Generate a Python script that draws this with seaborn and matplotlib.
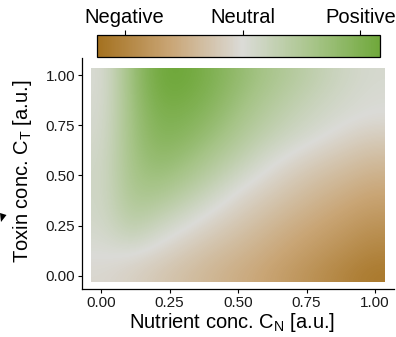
import numpy as np
import matplotlib
matplotlib.use("Agg")
import matplotlib.pyplot as plt
import seaborn as sns
from matplotlib.colors import LinearSegmentedColormap, Normalize
from matplotlib.patches import Polygon

# ---- data ----
nutrient = [0.0, 0.1, 0.2, 0.3, 0.4, 0.5, 0.6, 0.7, 0.8, 0.9, 1.0]
toxin = [0.0, 0.1, 0.2, 0.3, 0.4, 0.5, 0.6, 0.7, 0.8, 0.9, 1.0]
# effect[j][i]: toxin index j (rows, bottom->top), nutrient index i (columns)
effect = [
    [-0.05, -0.12, -0.22, -0.32, -0.42, -0.52, -0.62, -0.75, -0.87, -1.00, -1.12],
    [0.01, 0.02, -0.08, -0.20, -0.32, -0.42, -0.53, -0.65, -0.77, -0.88, -1.00],
    [0.07, 0.28, 0.10, -0.05, -0.18, -0.30, -0.43, -0.55, -0.66, -0.77, -0.88],
    [0.11, 0.45, 0.33, 0.15, -0.03, -0.17, -0.30, -0.43, -0.54, -0.65, -0.75],
    [0.12, 0.55, 0.55, 0.38, 0.17, -0.04, -0.17, -0.30, -0.42, -0.52, -0.62],
    [0.12, 0.60, 0.72, 0.58, 0.38, 0.15, -0.03, -0.17, -0.29, -0.38, -0.48],
    [0.10, 0.63, 0.85, 0.75, 0.55, 0.35, 0.12, -0.02, -0.14, -0.24, -0.33],
    [0.07, 0.65, 0.95, 0.90, 0.72, 0.50, 0.30, 0.14, 0.03, -0.08, -0.17],
    [0.05, 0.66, 1.02, 1.00, 0.85, 0.62, 0.42, 0.26, 0.13, 0.04, -0.01],
    [0.03, 0.68, 1.10, 1.10, 0.95, 0.72, 0.52, 0.36, 0.21, 0.10, 0.03],
    [0.02, 0.70, 1.15, 1.17, 1.00, 0.80, 0.60, 0.45, 0.29, 0.15, 0.06],
]
bar_ticks = [-1, 0, 1]
bar_labels = ["Negative", "Neutral", "Positive"]
bar_limits = (-1.233, 1.167)

# ---- style ----
sns.set_theme(style="ticks")
plt.rcParams["font.family"] = ["Liberation Sans", "DejaVu Sans"]
plt.rcParams["mathtext.default"] = "regular"

W, H = 396, 337
fig = plt.figure(figsize=(W / 100, H / 100), dpi=100)

def fx(px):
    return px / W

def fy(py):
    return 1 - py / H

cmap = LinearSegmentedColormap.from_list(
    "bg",
    [(0.0, "#A4711F"), (0.25, "#C9A575"), (0.5, "#DBDBD7"),
     (0.75, "#A6C487"), (1.0, "#69A532")],
)
lim = max(abs(bar_limits[0]), abs(bar_limits[1]))
norm = Normalize(-lim, lim)

# main panel
ax = fig.add_axes([fx(81.5), fy(288.5), fx(394) - fx(81.5), fy(57.5) - fy(288.5)])
pad_x, pad_y0, pad_y1 = 0.035, 0.03, 0.035
im = ax.imshow(np.array(effect), origin="lower", cmap=cmap, norm=norm,
               extent=(nutrient[0] - pad_x, nutrient[-1] + pad_x,
                       toxin[0] - pad_y0, toxin[-1] + pad_y1),
               aspect="auto", interpolation="bicubic")
ax.set_xlim(-0.0712, 1.0693)
ax.set_ylim(-0.0638, 1.0872)
ticks = [0.0, 0.25, 0.5, 0.75, 1.0]
ax.set_xticks(ticks)
ax.set_yticks(ticks)
ax.set_xticklabels([f"{t:.2f}" for t in ticks])
ax.set_yticklabels([f"{t:.2f}" for t in ticks])
for s in ["top", "right"]:
    ax.spines[s].set_visible(False)
for s in ["left", "bottom"]:
    ax.spines[s].set_linewidth(0.9)
    ax.spines[s].set_color("black")
ax.tick_params(axis="both", length=3, width=0.8, color="black",
               labelsize=11, labelcolor="#1a1a1a", direction="out")
ax.tick_params(axis="x", pad=2.5)
ax.tick_params(axis="y", pad=1.5)

fig.text(fx(232.5), fy(323), "Nutrient conc. C$_N$ [a.u.]", ha="center",
         va="center", fontsize=14.5, color="black")
fig.text(fx(23), fy(171), "Toxin conc. C$_T$ [a.u.]", ha="center",
         va="center", rotation=90, fontsize=14.5, color="black")

# colourbar on top
cax = fig.add_axes([fx(97.3), fy(56.7), fx(380) - fx(97.3), fy(35) - fy(56.7)])
cb = fig.colorbar(im, cax=cax, orientation="horizontal",
                  boundaries=np.linspace(bar_limits[0], bar_limits[1], 300))
cb.set_ticks(bar_ticks)
cb.set_ticklabels(bar_labels)
cax.xaxis.set_ticks_position("top")
cax.xaxis.set_label_position("top")
cax.tick_params(axis="x", length=3.5, width=0.8, color="black", pad=2,
                labelsize=14.5, labelcolor="black")
cb.outline.set_linewidth(0.9)
cb.outline.set_edgecolor("black")

# small cut-off arrowhead at left edge
fig.patches.append(Polygon([(fx(0), fy(213)), (fx(6.5), fy(215)), (fx(1), fy(222))],
                           closed=True, transform=fig.transFigure,
                           facecolor="black", edgecolor="none"))

fig.savefig("out.png", dpi=100)
